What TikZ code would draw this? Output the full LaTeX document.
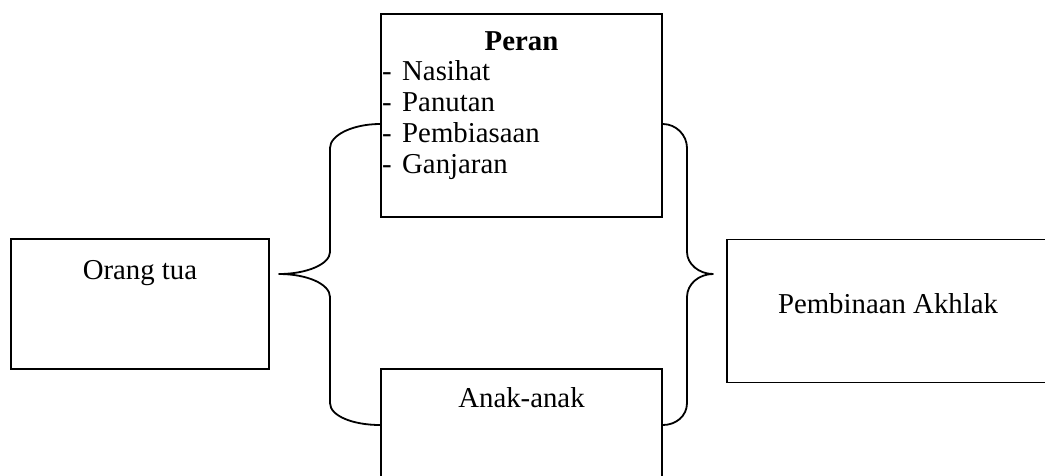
\documentclass[tikz,border=0pt]{standalone}
\usepackage{fontspec}
\setmainfont{Liberation Serif}
\begin{document}
\begin{tikzpicture}[x=1pt,y=-1pt,
  box/.style={draw=black,line width=1.8pt,rectangle,inner sep=0pt,fill=none},
  lbl/.style={inner sep=0pt,anchor=base,font=\fontsize{28.8}{31.2}\selectfont},
  item/.style={inner sep=0pt,anchor=base west,font=\fontsize{28.8}{31.2}\selectfont},
  brace/.style={draw=black,line width=1.8pt,line join=round}]
\useasboundingbox (0,0) rectangle (1045,475);
\clip (0,0) rectangle (1045,475);
% boxes
\node[box,minimum width=281pt,minimum height=203pt] (peran) at (521.5,115.5) {};
\node[box,minimum width=258pt,minimum height=130pt] (ortu) at (140,304) {};
\node[box,minimum width=322pt,minimum height=143pt] (akhlak) at (888,311) {};
\node[box,minimum width=281pt,minimum height=130pt] (anak) at (521.5,434) {};
% texts
\node[lbl] (tperan) at (521.5,50) {\textbf{Peran}};
\node[item] (d1) at (382,80) {-};
\node[item] (i1) at (402,80) {Nasihat};
\node[item] (d2) at (382,111) {-};
\node[item] (i2) at (402,111) {Panutan};
\node[item] (d3) at (382,142) {-};
\node[item] (i3) at (402,142) {Pembiasaan};
\node[item] (d4) at (382,173) {-};
\node[item] (i4) at (402,173) {Ganjaran};
\node[lbl] (tortu) at (140,279) {Orang tua};
\node[lbl] (takhlak) at (888,313) {Pembinaan Akhlak};
\node[lbl] (tanak) at (521.5,407) {Anak-anak};
% left brace
\draw[brace] (peran.west |- 0,124) .. controls (353,124) and (330,135) .. (330,148)
  -- (330,252) .. controls (330,264) and (307,274) .. (279,274)
  .. controls (307,274) and (330,284) .. (330,297)
  -- (330,403) .. controls (330,416) and (353,425) .. (anak.west |- 0,425);
% right brace
\draw[brace] (peran.east |- 0,124) .. controls (676,124) and (687,135) .. (687,148)
  -- (687,252) .. controls (687,264) and (699,274) .. (713,274)
  .. controls (699,274) and (687,284) .. (687,297)
  -- (687,403) .. controls (687,416) and (676,425) .. (anak.east |- 0,425);
\end{tikzpicture}
\end{document}
